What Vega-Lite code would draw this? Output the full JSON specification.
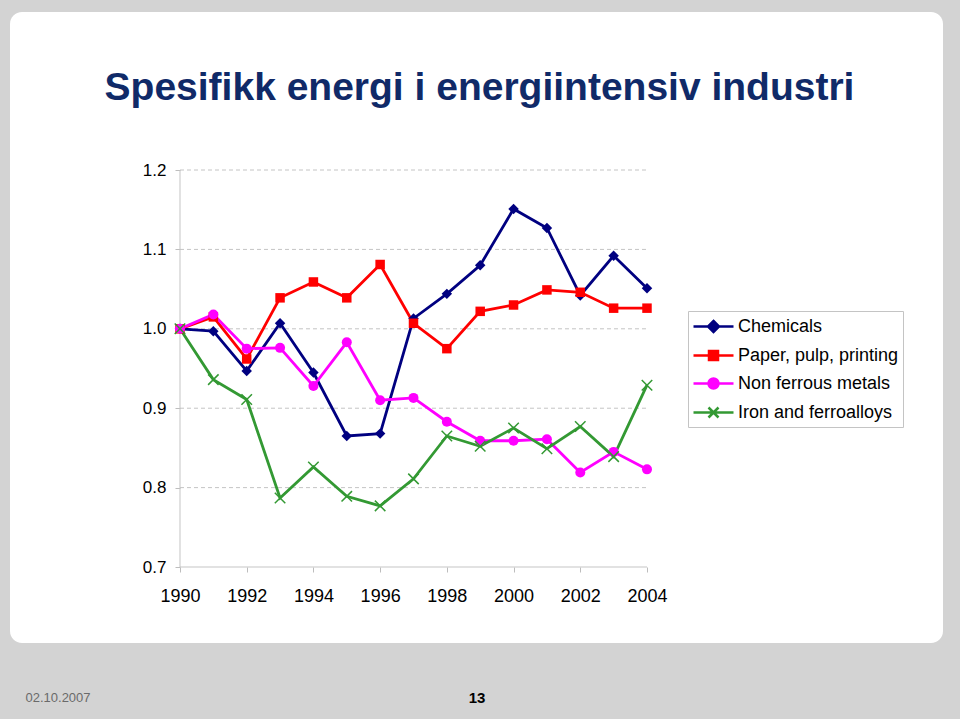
{
  "$schema": "https://vega.github.io/schema/vega-lite/v6.json",
  "width": 933,
  "height": 631,
  "autosize": {"type": "none"},
  "padding": {"left": 10, "top": 12, "right": 17, "bottom": 76},
  "background": "#d3d3d3",
  "title": {
    "text": "Spesifikk energi i energiintensiv industri",
    "anchor": "middle",
    "frame": "group",
    "orient": "top",
    "offset": -127,
    "dx": 3,
    "baseline": "alphabetic",
    "fontSize": 39,
    "font": "Liberation Sans, Arial, sans-serif",
    "fontWeight": "bold",
    "color": "#102a68"
  },
  "config": {
    "view": {"fill": "white", "stroke": null, "cornerRadius": 12},
    "axis": {
      "labelFont": "Liberation Sans, Arial, sans-serif",
      "labelFontSize": 17,
      "labelColor": "#000000",
      "tickColor": "#bdbdbd",
      "tickSize": 5,
      "domain": false,
      "grid": false
    }
  },
  "datasets": {
    "series": [
      {"year": 1990, "series": "Chemicals", "value": 1.000},
      {"year": 1991, "series": "Chemicals", "value": 0.997},
      {"year": 1992, "series": "Chemicals", "value": 0.947},
      {"year": 1993, "series": "Chemicals", "value": 1.007},
      {"year": 1994, "series": "Chemicals", "value": 0.945},
      {"year": 1995, "series": "Chemicals", "value": 0.865},
      {"year": 1996, "series": "Chemicals", "value": 0.868},
      {"year": 1997, "series": "Chemicals", "value": 1.013},
      {"year": 1998, "series": "Chemicals", "value": 1.044},
      {"year": 1999, "series": "Chemicals", "value": 1.080},
      {"year": 2000, "series": "Chemicals", "value": 1.151},
      {"year": 2001, "series": "Chemicals", "value": 1.127},
      {"year": 2002, "series": "Chemicals", "value": 1.042},
      {"year": 2003, "series": "Chemicals", "value": 1.092},
      {"year": 2004, "series": "Chemicals", "value": 1.051},
      {"year": 1990, "series": "Paper, pulp, printing", "value": 1.000},
      {"year": 1991, "series": "Paper, pulp, printing", "value": 1.015},
      {"year": 1992, "series": "Paper, pulp, printing", "value": 0.962},
      {"year": 1993, "series": "Paper, pulp, printing", "value": 1.039},
      {"year": 1994, "series": "Paper, pulp, printing", "value": 1.059},
      {"year": 1995, "series": "Paper, pulp, printing", "value": 1.039},
      {"year": 1996, "series": "Paper, pulp, printing", "value": 1.081},
      {"year": 1997, "series": "Paper, pulp, printing", "value": 1.007},
      {"year": 1998, "series": "Paper, pulp, printing", "value": 0.975},
      {"year": 1999, "series": "Paper, pulp, printing", "value": 1.022},
      {"year": 2000, "series": "Paper, pulp, printing", "value": 1.030},
      {"year": 2001, "series": "Paper, pulp, printing", "value": 1.049},
      {"year": 2002, "series": "Paper, pulp, printing", "value": 1.046},
      {"year": 2003, "series": "Paper, pulp, printing", "value": 1.026},
      {"year": 2004, "series": "Paper, pulp, printing", "value": 1.026},
      {"year": 1990, "series": "Non ferrous metals", "value": 1.000},
      {"year": 1991, "series": "Non ferrous metals", "value": 1.018},
      {"year": 1992, "series": "Non ferrous metals", "value": 0.975},
      {"year": 1993, "series": "Non ferrous metals", "value": 0.976},
      {"year": 1994, "series": "Non ferrous metals", "value": 0.928},
      {"year": 1995, "series": "Non ferrous metals", "value": 0.983},
      {"year": 1996, "series": "Non ferrous metals", "value": 0.910},
      {"year": 1997, "series": "Non ferrous metals", "value": 0.913},
      {"year": 1998, "series": "Non ferrous metals", "value": 0.883},
      {"year": 1999, "series": "Non ferrous metals", "value": 0.859},
      {"year": 2000, "series": "Non ferrous metals", "value": 0.859},
      {"year": 2001, "series": "Non ferrous metals", "value": 0.861},
      {"year": 2002, "series": "Non ferrous metals", "value": 0.819},
      {"year": 2003, "series": "Non ferrous metals", "value": 0.845},
      {"year": 2004, "series": "Non ferrous metals", "value": 0.823},
      {"year": 1990, "series": "Iron and ferroalloys", "value": 1.000},
      {"year": 1991, "series": "Iron and ferroalloys", "value": 0.936},
      {"year": 1992, "series": "Iron and ferroalloys", "value": 0.911},
      {"year": 1993, "series": "Iron and ferroalloys", "value": 0.787},
      {"year": 1994, "series": "Iron and ferroalloys", "value": 0.826},
      {"year": 1995, "series": "Iron and ferroalloys", "value": 0.789},
      {"year": 1996, "series": "Iron and ferroalloys", "value": 0.777},
      {"year": 1997, "series": "Iron and ferroalloys", "value": 0.811},
      {"year": 1998, "series": "Iron and ferroalloys", "value": 0.865},
      {"year": 1999, "series": "Iron and ferroalloys", "value": 0.852},
      {"year": 2000, "series": "Iron and ferroalloys", "value": 0.875},
      {"year": 2001, "series": "Iron and ferroalloys", "value": 0.849},
      {"year": 2002, "series": "Iron and ferroalloys", "value": 0.877},
      {"year": 2003, "series": "Iron and ferroalloys", "value": 0.839},
      {"year": 2004, "series": "Iron and ferroalloys", "value": 0.929}
    ],
    "grid": [
      {"level": 0.7},
      {"level": 0.8},
      {"level": 0.9},
      {"level": 1.0},
      {"level": 1.1},
      {"level": 1.2}
    ],
    "yaxis": [{"from": 0.7, "to": 1.2}]
  },
  "layer": [
    {
      "data": {"name": "grid"},
      "mark": {"type": "rule", "color": "#c4c4c4", "strokeWidth": 1},
      "encoding": {
        "y": {
          "field": "level", "type": "quantitative",
          "scale": {"domain": [0.6043, 1.399], "nice": false, "zero": false},
          "axis": {
            "values": [0.7, 0.8, 0.9, 1.0, 1.1, 1.2],
            "format": ".1f",
            "offset": -170,
            "labelPadding": 9,
            "title": "02.10.2007",
            "titleAngle": 0,
            "titleX": -155,
            "titleY": 689,
            "titleAlign": "left",
            "titleBaseline": "alphabetic",
            "titleFont": "Liberation Sans, Arial, sans-serif",
            "titleFontSize": 13,
            "titleFontWeight": "normal",
            "titleColor": "#6a6a6a"
          }
        },
        "x": {
          "datum": 1990, "type": "quantitative",
          "scale": {"domain": [1984.904, 2012.874], "nice": false, "zero": false},
          "axis": {
            "values": [1990, 1992, 1994, 1996, 1998, 2000, 2002, 2004],
            "format": "d",
            "offset": -76,
            "labelPadding": 15,
            "labelFontSize": 18,
            "title": "13",
            "titleFont": "Liberation Sans, Arial, sans-serif",
            "titleFontSize": 15,
            "titleFontWeight": "bold",
            "titleColor": "#000000",
            "titleY": 135,
            "titleBaseline": "alphabetic",
            "titleAnchor": "middle"
          }
        },
        "x2": {"datum": 2004},
        "strokeDash": {"condition": {"test": "datum.level < 0.75", "value": [1, 0]}, "value": [4, 3]}
      }
    },
    {
      "data": {"name": "yaxis"},
      "mark": {"type": "rule", "color": "#c4c4c4", "strokeWidth": 1},
      "encoding": {
        "x": {"datum": 1990, "type": "quantitative", "scale": {"domain": [1984.904, 2012.874], "nice": false, "zero": false}},
        "y": {"field": "from", "type": "quantitative", "scale": {"domain": [0.6043, 1.399], "nice": false, "zero": false}},
        "y2": {"field": "to"}
      }
    },
    {
      "data": {"name": "series"},
      "mark": {"type": "line", "strokeWidth": 2.8},
      "encoding": {
        "x": {"field": "year", "type": "quantitative", "scale": {"domain": [1984.904, 2012.874], "nice": false, "zero": false}},
        "y": {"field": "value", "type": "quantitative", "scale": {"domain": [0.6043, 1.399], "nice": false, "zero": false}},
        "color": {
          "field": "series", "type": "nominal",
          "scale": {
            "domain": ["Chemicals", "Paper, pulp, printing", "Non ferrous metals", "Iron and ferroalloys"],
            "range": ["#000080", "#ff0000", "#ff00ff", "#339933"]
          },
          "legend": {
            "title": null,
            "orient": "none",
            "legendX": 678,
            "legendY": 299,
            "padding": 4,
            "strokeColor": "#c4c4c4",
            "fillColor": "#ffffff",
            "symbolSize": 400,
            "symbolOffset": 10,
            "labelOffset": 13,
            "rowPadding": 7,
            "symbolStrokeWidth": 2.5,
            "labelFont": "Liberation Sans, Arial, sans-serif",
            "labelFontSize": 18,
            "labelColor": "#000000",
            "labelLimit": 400,
            "encode": {
              "symbols": {
                "update": {
                  "shape": {"signal": "datum.value === 'Chemicals' ? 'M-2,0H2M0,-0.55L0.55,0L0,0.55L-0.55,0Z' : datum.value === 'Paper, pulp, printing' ? 'M-2,0H2M-0.45,-0.45H0.45V0.45H-0.45Z' : datum.value === 'Non ferrous metals' ? 'M-2,0H2M-0.5,0A0.5,0.5,0,1,1,0.5,0A0.5,0.5,0,1,1,-0.5,0Z' : 'M-2,0H2M-0.5,-0.5L0.5,0.5M-0.5,0.5L0.5,-0.5'"},
                  "fill": {"signal": "scale('color', datum.value)"},
                  "stroke": {"signal": "scale('color', datum.value)"},
                  "opacity": {"value": 1}
                }
              }
            }
          }
        }
      }
    },
    {
      "data": {"name": "series"},
      "transform": [{"filter": "datum.series === 'Chemicals'"}],
      "mark": {"type": "point", "shape": "diamond", "filled": true, "size": 110, "color": "#000080", "opacity": 1},
      "encoding": {
        "x": {"field": "year", "type": "quantitative", "scale": {"domain": [1984.904, 2012.874], "nice": false, "zero": false}},
        "y": {"field": "value", "type": "quantitative", "scale": {"domain": [0.6043, 1.399], "nice": false, "zero": false}}
      }
    },
    {
      "data": {"name": "series"},
      "transform": [{"filter": "datum.series === 'Paper, pulp, printing'"}],
      "mark": {"type": "point", "shape": "square", "filled": true, "size": 90, "color": "#ff0000", "opacity": 1},
      "encoding": {
        "x": {"field": "year", "type": "quantitative", "scale": {"domain": [1984.904, 2012.874], "nice": false, "zero": false}},
        "y": {"field": "value", "type": "quantitative", "scale": {"domain": [0.6043, 1.399], "nice": false, "zero": false}}
      }
    },
    {
      "data": {"name": "series"},
      "transform": [{"filter": "datum.series === 'Non ferrous metals'"}],
      "mark": {"type": "point", "shape": "circle", "filled": true, "size": 100, "color": "#ff00ff", "opacity": 1},
      "encoding": {
        "x": {"field": "year", "type": "quantitative", "scale": {"domain": [1984.904, 2012.874], "nice": false, "zero": false}},
        "y": {"field": "value", "type": "quantitative", "scale": {"domain": [0.6043, 1.399], "nice": false, "zero": false}}
      }
    },
    {
      "data": {"name": "series"},
      "transform": [{"filter": "datum.series === 'Iron and ferroalloys'"}],
      "mark": {"type": "point", "shape": "M-1,-1L1,1M-1,1L1,-1", "filled": false, "size": 110, "color": "#339933", "strokeWidth": 1.5, "opacity": 1},
      "encoding": {
        "x": {"field": "year", "type": "quantitative", "scale": {"domain": [1984.904, 2012.874], "nice": false, "zero": false}},
        "y": {"field": "value", "type": "quantitative", "scale": {"domain": [0.6043, 1.399], "nice": false, "zero": false}}
      }
    }
  ]
}
